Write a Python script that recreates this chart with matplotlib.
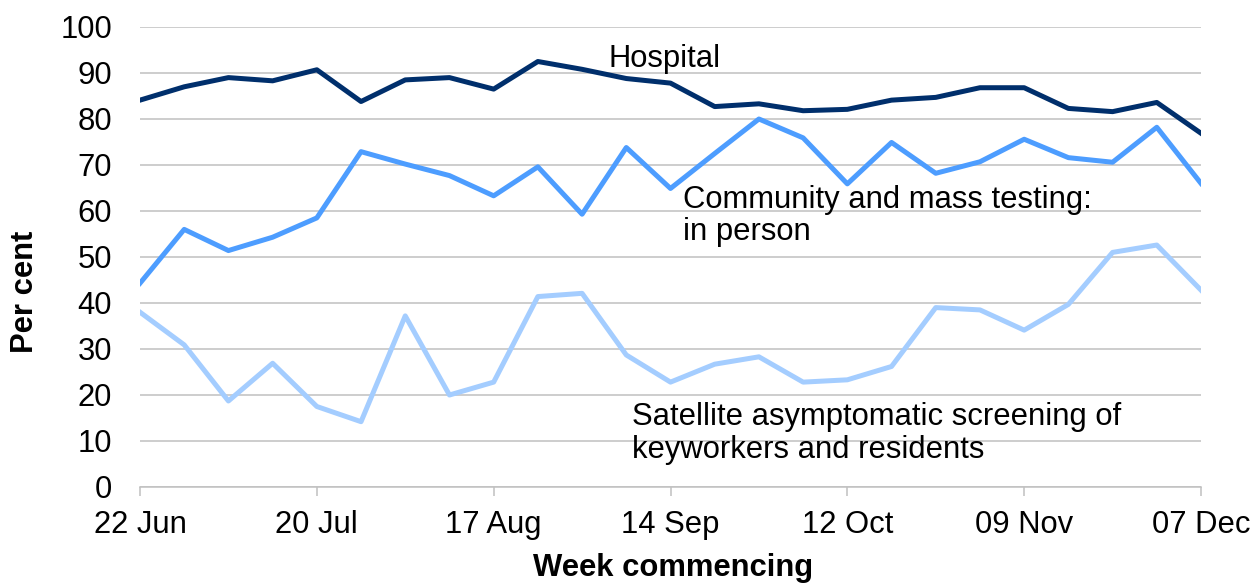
import numpy as np
from matplotlib import pyplot as plt

# weekly values, week commencing 22 Jun .. 07 Dec
weeks = np.arange(25)
tick_pos = [0, 4, 8, 12, 16, 20, 24]
tick_labels = ["22 Jun", "20 Jul", "17 Aug", "14 Sep", "12 Oct", "09 Nov", "07 Dec"]

hospital = [84.1, 87.0, 89.0, 88.3, 90.7, 83.8, 88.5, 89.0, 86.5, 92.5, 90.8, 88.8,
            87.8, 82.7, 83.3, 81.8, 82.1, 84.1, 84.7, 86.8, 86.8, 82.3, 81.6, 83.6, 76.9]
community = [44.3, 56.0, 51.4, 54.3, 58.5, 72.9, 70.2, 67.7, 63.3, 69.6, 59.3, 73.8,
             64.9, 72.5, 80.0, 75.9, 65.9, 74.9, 68.2, 70.7, 75.6, 71.6, 70.6, 78.2, 66.0]
satellite = [38.0, 30.9, 18.7, 26.9, 17.5, 14.2, 37.2, 20.0, 22.8, 41.4, 42.1, 28.7,
             22.8, 26.7, 28.3, 22.8, 23.3, 26.2, 39.0, 38.5, 34.1, 39.7, 51.0, 52.6, 42.8]


def main():
    plt.rcParams['font.family'] = ['Liberation Sans', 'DejaVu Sans']
    fs = 22.3
    grey = "#c0c0c0"

    fig = plt.figure(figsize=(12.55, 5.84), dpi=100)
    ax = fig.add_axes([140/1255, 1-487/584, 1061/1255, 460/584])

    ax.plot(weeks, hospital, color="#002f6c", lw=3.6)
    ax.plot(weeks, community, color="#4d9dff", lw=3.6)
    ax.plot(weeks, satellite, color="#a4cdff", lw=3.6)

    ax.set_xlim(0, 24)
    ax.set_ylim(0, 100)
    ax.set_yticks(np.arange(0, 101, 10))
    ax.set_xticks(tick_pos)
    ax.set_xticklabels(tick_labels)
    ax.grid(axis="y", color=grey, lw=1.1)
    ax.set_axisbelow(True)
    for s in ["top", "right", "left"]:
        ax.spines[s].set_visible(False)
    ax.spines["bottom"].set_color(grey)
    ax.spines["bottom"].set_linewidth(1.1)
    ax.tick_params(axis="y", length=0, pad=20, labelsize=fs)
    ax.tick_params(axis="x", length=6.5, width=1.1, color=grey, pad=10, labelsize=fs)

    # baseline of a multi-line text is the last line's
    ax.text(10.59, 91.3, "Hospital", fontsize=fs, va="baseline")
    ax.text(12.29, 53.7, "Community and mass testing:\nin person", fontsize=fs,
            va="baseline", linespacing=1.1)
    ax.text(11.13, 6.4, "Satellite asymptomatic screening of\nkeyworkers and residents",
            fontsize=fs, va="baseline", linespacing=1.1)

    ax.set_ylabel("Per cent", fontsize=fs, fontweight="bold", va="center")
    ax.yaxis.set_label_coords(-0.108, 0.424)
    ax.set_xlabel("Week commencing", fontsize=fs, fontweight="bold", va="center")
    ax.xaxis.set_label_coords(0.502, -0.176)

    fig.savefig("out.png", dpi=100)


if __name__ == "__main__":
    main()
